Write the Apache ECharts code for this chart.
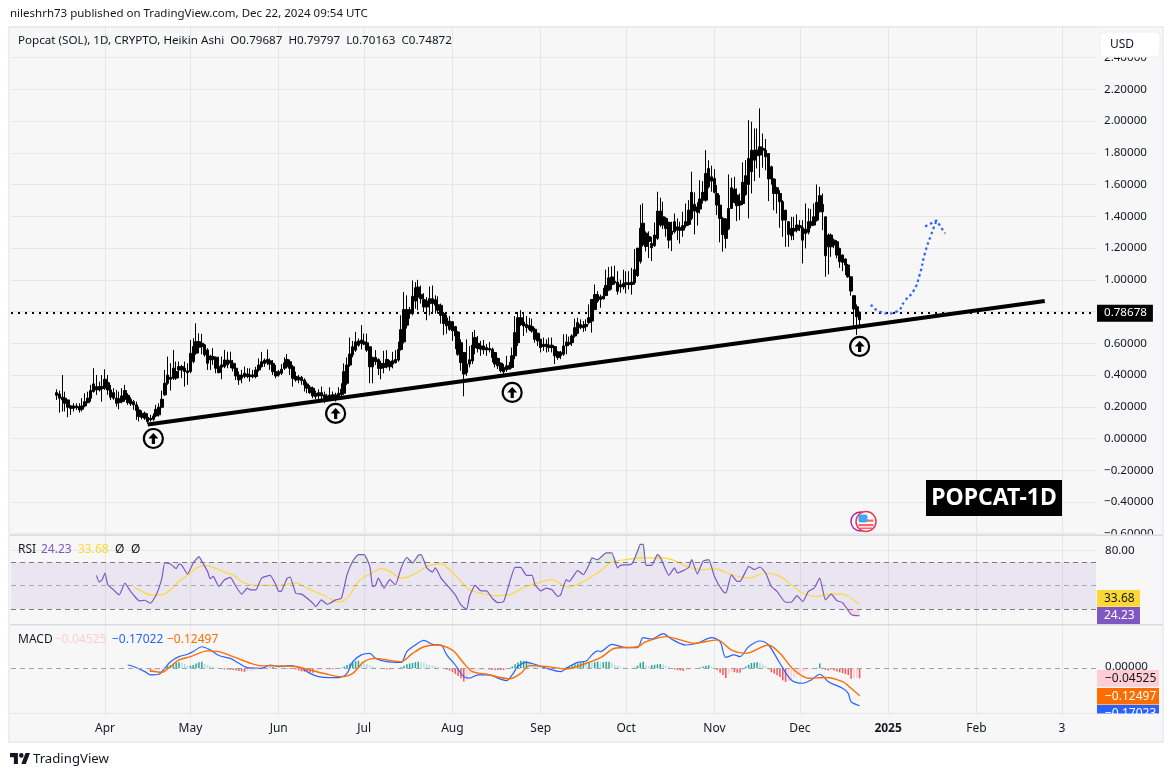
<!DOCTYPE html>
<html><head><meta charset="utf-8">
<style>html,body{margin:0;padding:0;background:#fff}#c{width:1174px;height:777px}</style>
<script src="https://cdn.jsdelivr.net/npm/echarts@6/dist/echarts.min.js"></script>
</head><body><div id="c"></div>
<script>
// ---- data ----
const firstDate = '2024-02-28';
const dayCount = 382;
const candleStartDay = -17; // days relative to 1 Apr 2024
const tickDates = ['2024-04-01','2024-05-01','2024-06-01','2024-07-01','2024-08-01','2024-09-01','2024-10-01','2024-11-01','2024-12-01','2025-01-01','2025-02-01','2025-03-03'];
const tickLabels = ['Apr','May','Jun','Jul','Aug','Sep','Oct','Nov','Dec','2025','Feb','3'];

const bodyTop = [.289,.281,.26,.254,.243,.205,.205,.205,.201,.205,.232,.254,.302,.344,.327,.327,.327,
.373,.352,.306,.289,.254,.251,.268,.302,.272,.247,.232,.212,.18,.159,.159,.134,.128,.142,.184,.197,.247,.348,.40,.386,.443,.422,.453,.453,.443,.426,.537,.579,.61,.61,.6,.59,.558,.52,.516,.512,.453,.464,.495,.495,.491,.474,.443,.40,.40,.411,.407,
.40,.40,.432,.463,.484,.494,.498,.49,.473,.421,.421,.436,.477,.498,.484,.452,.39,.386,.386,.369,.344,.323,.317,.285,.289,.289,.275,.268,.273,.275,.275,.285,.31,.421,.463,.532,.578,.609,.615,.62,.609,.603,.578,.511,.511,.498,.473,.473,.498,.484,.49,.498,.561,.686,.812,.812,.812,.896,.95,.954,.908,.875,.866,.881,.881,.875,.843,.839,.787,
.76,.74,.736,.705,.671,.604,.542,.469,.496,.588,.636,.6,.583,.583,.573,.567,.563,.542,.504,.475,.448,.458,.462,.521,.667,.761,.761,.734,.719,.713,.705,.688,.663,.625,.594,.594,.588,.588,.579,.546,.542,.583,.608,.604,.646,.698,.73,.719,.713,.719,.761,.876,.907,.907,.893,.897,.964,1.012,1.018,.991,.985,.97,.976,.981,.981,.985,1.064,1.2,1.325,1.357,1.294,1.273,
1.229,1.282,1.433,1.433,1.397,1.387,1.362,1.307,1.366,1.334,1.328,1.341,1.366,1.439,1.551,1.475,1.46,1.509,1.551,1.67,1.702,1.649,1.639,1.544,1.471,1.387,1.383,1.45,1.58,1.572,1.534,1.496,1.614,1.656,1.765,1.817,1.817,1.817,1.838,1.828,1.817,1.796,1.712,1.635,1.58,1.544,1.492,1.439,1.366,1.324,1.324,1.345,1.341,1.328,1.32,1.366,1.366,1.397,1.488,1.53,1.475,1.397,1.282,1.282,1.25,1.24,1.198,1.156,1.131,1.093,1.019,.90,.83,.79687];
const bodyBottom = [.272,.254,.243,.222,.197,.19,.19,.193,.18,.184,.205,.226,.254,.296,.306,.306,.314,
.317,.306,.26,.254,.222,.226,.232,.247,.226,.218,.212,.176,.138,.134,.128,.107,.117,.121,.142,.149,.197,.275,.348,.373,.38,.38,.432,.432,.422,.415,.422,.485,.537,.575,.579,.527,.474,.495,.499,.443,.415,.449,.453,.464,.474,.443,.394,.369,.38,.39,.39,
.39,.39,.39,.432,.452,.473,.477,.469,.421,.394,.40,.411,.442,.452,.442,.379,.369,.369,.365,.337,.317,.289,.268,.264,.268,.268,.254,.248,.254,.254,.26,.26,.275,.285,.348,.463,.526,.557,.588,.599,.595,.557,.452,.452,.484,.442,.442,.448,.452,.452,.469,.477,.494,.561,.609,.714,.787,.787,.866,.891,.881,.829,.829,.85,.85,.839,.808,.776,.724,
.71,.688,.678,.646,.531,.479,.406,.416,.469,.489,.573,.567,.563,.558,.558,.558,.51,.469,.458,.427,.42,.433,.437,.448,.521,.604,.719,.709,.698,.688,.677,.625,.615,.573,.579,.579,.573,.573,.521,.51,.521,.531,.583,.594,.604,.646,.663,.698,.698,.705,.73,.74,.813,.866,.876,.88,.901,.935,.97,.981,.928,.955,.955,.97,.97,.97,.981,1.027,1.116,1.221,1.21,1.242,
1.202,1.215,1.261,1.345,1.345,1.324,1.25,1.286,1.303,1.313,1.313,1.313,1.341,1.349,1.387,1.433,1.425,1.446,1.502,1.502,1.586,1.622,1.551,1.471,1.387,1.286,1.261,1.32,1.45,1.488,1.467,1.471,1.481,1.538,1.601,1.681,1.754,1.782,1.786,1.817,1.775,1.635,1.635,1.544,1.544,1.492,1.376,1.376,1.286,1.278,1.307,1.313,1.328,1.25,1.292,1.299,1.341,1.345,1.376,1.429,1.429,1.152,1.208,1.208,1.219,1.156,1.114,1.11,1.093,1.019,.929,.816,.767,.74872];
const highs = [.31,.302,.40,.295,.243,.21,.222,.222,.222,.254,.285,.295,.338,.443,.40,.358,.40,
.436,.40,.338,.317,.306,.295,.317,.338,.285,.26,.243,.232,.201,.176,.17,.159,.149,.159,.212,.222,.302,.432,.516,.474,.558,.485,.485,.464,.485,.474,.621,.632,.726,.663,.659,.596,.569,.527,.569,.516,.516,.516,.558,.547,.547,.495,.474,.422,.432,.453,.443,
.442,.432,.452,.505,.546,.505,.561,.505,.494,.463,.432,.469,.511,.532,.498,.463,.421,.40,.394,.379,.358,.337,.327,.302,.31,.327,.296,.281,.323,.296,.289,.323,.348,.473,.511,.636,.615,.672,.63,.714,.661,.661,.578,.515,.557,.505,.49,.553,.557,.494,.546,.557,.609,.776,.923,.902,.829,.996,.985,1.0,.964,.916,.891,.958,.964,.902,.896,.85,.797,
.78,.772,.74,.709,.678,.625,.542,.625,.583,.671,.684,.646,.615,.621,.594,.608,.573,.542,.51,.479,.469,.521,.483,.573,.772,.797,.809,.792,.772,.761,.755,.698,.667,.629,.636,.625,.636,.636,.583,.552,.552,.657,.657,.642,.657,.755,.761,.751,.74,.751,.845,.876,.97,.928,.907,.949,1.064,1.081,1.085,1.089,1.054,1.001,1.064,1.054,1.054,1.075,1.194,1.2,1.472,1.482,1.305,1.305,
1.271,1.362,1.555,1.517,1.492,1.397,1.366,1.366,1.418,1.387,1.366,1.429,1.481,1.502,1.681,1.551,1.488,1.628,1.622,1.817,1.754,1.719,1.698,1.597,1.534,1.397,1.387,1.664,1.643,1.649,1.576,1.544,1.74,1.754,2.006,1.996,1.954,1.954,2.08,1.922,1.887,1.796,1.719,1.64,1.586,1.565,1.502,1.44,1.37,1.397,1.397,1.412,1.376,1.376,1.481,1.45,1.446,1.481,1.601,1.586,1.544,1.397,1.292,1.292,1.26,1.25,1.202,1.16,1.135,1.1,1.02,.90,.845,.79797];
const lows = [.243,.163,.17,.17,.134,.148,.17,.18,.163,.17,.197,.222,.232,.289,.275,.296,.232,
.306,.275,.243,.243,.201,.184,.222,.232,.212,.205,.18,.117,.107,.121,.117,.092,.107,.111,.134,.138,.191,.268,.338,.302,.369,.369,.38,.38,.327,.338,.411,.474,.527,.537,.531,.516,.432,.432,.464,.411,.411,.373,.443,.443,.443,.422,.369,.338,.348,.38,.38,
.358,.379,.379,.421,.448,.452,.463,.432,.40,.379,.39,.40,.432,.442,.40,.327,.358,.348,.338,.296,.285,.281,.254,.248,.248,.248,.223,.233,.239,.243,.233,.243,.268,.275,.337,.452,.511,.546,.578,.561,.588,.546,.348,.348,.463,.40,.373,.411,.442,.427,.442,.473,.484,.553,.599,.693,.755,.776,.818,.808,.85,.797,.745,.776,.797,.787,.787,.724,.651,
.66,.678,.615,.563,.521,.427,.266,.395,.448,.469,.531,.542,.521,.531,.521,.542,.479,.448,.437,.416,.406,.42,.437,.441,.5,.583,.709,.646,.667,.677,.667,.604,.583,.542,.552,.542,.546,.542,.469,.496,.5,.521,.531,.583,.583,.636,.657,.688,.671,.677,.719,.667,.809,.855,.824,.876,.897,.928,.939,.97,.907,.918,.939,.914,.939,.907,.97,1.018,1.102,1.21,1.179,1.137,
1.118,1.208,1.25,1.334,1.32,1.271,1.198,1.181,1.292,1.25,1.229,1.271,1.328,1.341,1.376,1.286,1.341,1.418,1.481,1.492,1.576,1.555,1.544,1.408,1.236,1.177,1.198,1.313,1.446,1.481,1.37,1.376,1.471,1.53,1.387,1.544,1.622,1.702,1.643,1.706,1.691,1.496,1.6,1.439,1.418,1.328,1.271,1.208,1.208,1.25,1.25,1.299,1.307,1.103,1.198,1.286,1.324,1.341,1.366,1.425,1.313,1.019,1.034,1.145,1.2,1.135,1.076,1.055,1.03,1.013,.90,.698,.652,.70163];

const lastPrice = 0.78678;
const trendDays = [15, 330];
const trendValues = [0.088, 0.866];
const pathDays = [269,272,275,278,281,284,286,288,290,292];
const pathValues = [.844,.80,.788,.80,.87,.933,1.027,1.172,1.279,1.374];
const headDays = [288,292,295];
const headValues = [1.336,1.374,1.292];
const markerDays = [17,81,143,265];
const markerValues = [0,.158,.29,.58];

const rsiDays = [-3,-2,-1,0,1,3,5,7,9,10,12,14,16,18,20,21,23,25,26,27,29,31,33,34,36,37,38,40,42,44,46,48,50,51,53,55,58,60,61,62,64,65,67,69,71,73,74,76,78,79,81,83,85,87,89,91,93,94,95,96,98,100,102,104,106,108,110,111,113,115,116,118,120,123,125,127,128,130,132,134,136,138,140,142,144,146,148,150,151,153,155,157,159,160,162,163,166,168,170,171,173,176,178,180,181,185,187,188,189,190,192,194,195,198,200,201,205,206,208,210,212,214,217,218,220,222,223,225,226,228,230,232,234,236,239,241,243,245,247,249,251,253,255,257,259,262,263,265];
const rsiValues = [58.6,52.9,54.9,60.6,50.6,46.3,42,52,44.9,42,36.9,37.4,34.9,42,56.3,69.1,68.3,64.3,68.3,67.1,59.7,69.1,74.6,70.6,62,55.7,57.7,49.1,54.9,56.9,49.1,42.6,47.7,46.3,46.3,56.3,58.6,50.6,44.9,45.4,56.3,57.1,43.4,42.6,39.1,34.9,32,37.7,34,34.9,37.7,39.1,59.1,70.6,76.3,76.3,66.3,49.1,50,56.3,47.7,54.9,50.6,64.9,74,69.1,75.7,76.3,64.9,61.4,64.9,56.3,50.6,42,33.4,29.6,40.6,50,45.4,45.4,39.1,35.4,36.3,52,65.4,65.4,58.6,58.6,50.6,45.4,47.7,46.3,40.6,42,54.9,53.4,62.6,59.1,67.7,73.4,72,77.7,77.7,64.9,67.1,68.3,79.1,84.9,84.9,67.1,67.1,76.3,74,58.6,64.9,60.6,65.4,72,59.7,70.6,72,57.7,44.9,43.4,59.1,53.4,53.4,62,66.3,63.4,65.7,60.6,49.1,44.9,35.7,35.7,41.4,36.3,44.9,47.7,56.3,37.7,42.6,37.1,35.4,25.4,24.6,24.23];
const rsiMaDays = [10,13,16,20,23,26,30,32,35,38,42,45,48,51,55,60,67,71,75,79,81,83,86,89,93,97,100,104,106,110,113,118,121,125,128,132,137,142,147,153,157,161,163,167,171,174,178,183,189,196,200,205,210,214,220,226,232,237,241,245,250,255,259,262,265];
const rsiMaValues = [49.1,44.9,42,42,46.3,53.4,60.6,64.9,67.1,65.4,61.4,59.1,53.4,50.6,50,50,52,47.7,43.4,39.1,36.3,36.3,42,53.4,59.7,64.3,62,56.3,56.9,61.4,66.3,68.3,63.4,53.4,46.3,43.4,41.4,42,48.3,52.9,54.9,50,48.6,52,57.7,62.6,70,72,73.4,73.4,71.1,65.7,63.4,64.3,59.1,56.3,60.6,57.7,50.6,43.4,40.6,42.9,42.6,39.1,33.68];

const macdDays = [8,10,14,16,19,21,23,26,29,31,34,37,40,44,47,50,55,58,61,65,69,72,75,79,82,85,87,90,93,95,99,104,106,109,112,115,118,120,123,126,128,131,135,138,141,143,145,148,151,155,160,163,166,169,171,173,174,178,183,187,189,192,196,199,204,208,213,216,218,221,223,226,230,233,237,241,245,248,251,254,259,261,262,265];
const macdValues = [.015,.008,-.015,-.03,-.027,0,.03,.053,.064,.076,.098,.083,.058,.045,.023,.003,0,.015,.008,.012,0,-.023,-.038,-.042,-.042,-.023,.03,.061,.068,.045,.03,.027,.076,.106,.127,.109,.106,.061,.015,-.038,-.045,-.03,-.03,-.045,-.056,-.03,.008,.027,.018,0,-.015,.008,.027,.033,.061,.079,.076,.109,.094,.094,.139,.133,.158,.132,.106,.114,.139,.121,.05,.061,.053,.098,.124,.106,.023,-.053,-.068,-.053,-.027,-.061,-.091,-.114,-.152,-.17022];
const signalDays = [16,20,23,26,30,36,40,45,51,55,60,67,72,79,83,87,91,95,104,108,112,116,122,126,129,134,142,146,149,155,162,169,174,179,187,190,197,202,207,215,220,225,233,237,242,247,253,259,262,265];
const signalValues = [-.012,-.018,.008,.038,.053,.079,.076,.053,.023,.011,.011,.008,-.008,-.03,-.038,-.023,.03,.045,.03,.068,.098,.106,.083,.023,-.015,-.027,-.048,-.023,.012,.008,-.003,.023,.048,.091,.098,.121,.144,.129,.114,.129,.083,.068,.106,.068,-.008,-.045,-.042,-.061,-.091,-.12497];
const histStartDay = 16;
const histValues = [-.016,-.012,-.01,-.008,-.004,.004,.01,.015,.022,.025,.028,.025,.02,.012,.012,.015,.022,.028,.03,.02,.015,.01,.008,.005,.002,-.004,-.005,-.006,-.007,-.008,-.01,-.012,-.014,-.016,-.014,-.012,-.01,-.008,-.005,-.003,-.001,.002,.004,.006,.005,.003,.001,-.001,-.002,-.003,-.003,-.006,-.01,-.014,-.016,-.018,-.02,-.02,-.016,-.012,-.008,-.005,-.004,-.004,-.004,-.003,-.002,.003,.008,.015,.022,.028,.032,.034,.03,.026,.02,.014,.008,.005,.002,-.003,-.004,-.005,-.006,-.004,-.003,-.002,.005,.012,.018,.022,.024,.028,.03,.028,.026,.02,.015,.012,.01,.006,.004,-.003,-.006,-.01,-.018,-.026,-.035,-.045,-.06,-.055,-.03,-.022,-.015,-.012,-.008,-.006,-.005,-.006,-.007,-.008,-.008,-.008,-.008,-.006,-.003,.008,.018,.026,.034,.034,.034,.03,.024,.018,.014,.01,.006,.003,-.002,-.003,-.003,-.002,-.001,.002,.006,.01,.014,.018,.022,.026,.03,.026,.03,.028,.028,.03,.028,.028,.03,.03,.025,.015,.012,.008,.004,.003,.001,-.002,.003,.012,.025,.03,.014,.01,.014,.016,.018,.02,.018,.012,.008,-.003,-.006,-.008,-.01,-.012,-.01,-.008,-.004,-.002,-.002,.004,.008,.012,.014,.008,-.002,-.008,-.02,-.03,-.044,-.025,-.018,-.018,-.02,-.02,-.008,.008,.016,.024,.026,.028,.026,.018,.012,-.005,-.018,-.025,-.032,-.04,-.055,-.062,-.058,-.05,-.042,-.03,-.022,-.018,-.012,-.006,-.003,-.001,.002,.022,.005,-.008,-.01,-.008,-.01,-.014,-.018,-.022,-.026,-.03,-.048,-.046,-.044,-.04525];

// ---- helpers ----
const categories = [];
{ const t0 = Date.parse(firstDate + 'T00:00:00Z');
  for (let i = 0; i < dayCount; i++) categories.push(new Date(t0 + i * 864e5).toISOString().slice(0, 10)); }
const dayOffset = categories.indexOf('2024-04-01');
const cat = d => categories[d + dayOffset];
const pairs = (ds, vs) => ds.map((d, i) => [cat(d), vs[i]]);
const isTick = (i, v) => tickDates.indexOf(v) >= 0;
const alignDays = (start, arr) => { const o = new Array(start + dayOffset).fill('-'); return o.concat(arr); };
const candleData = alignDays(candleStartDay, bodyTop.map((t, i) => [bodyBottom[i], t, lows[i], highs[i]]));
const histData = alignDays(histStartDay, histValues.map((v, i) => {
  const p = i ? histValues[i - 1] : 0;
  const col = v >= 0 ? (v >= p ? '#26a69a' : '#b2dfdb') : (v <= p ? '#ff5252' : '#ffcdd2');
  return { value: v, itemStyle: { color: col } };
}));

const FONT = '"Noto Sans", sans-serif';
const TXT = '#131722';
const BG = '#f7f7f7';
const gridCol = '#e6e6e8';
const splitLine = { show: true, interval: isTick, lineStyle: { color: gridCol, width: 1 } };
const baseX = {
  type: 'category', data: categories, boundaryGap: false,
  axisLine: { show: false }, axisTick: { show: false }, axisLabel: { show: false }, splitLine
};
const minusFix = s => s.replace('-', '\u2212');
const text = (x, y, str, color, opt) => ({
  type: 'text', x, y, z: 120, silent: true,
  style: Object.assign({ text: str, fill: color, font: '12px ' + FONT, verticalAlign: 'middle' }, opt || {})
});
const rect = (x, y, w, h, fill, z) => ({ type: 'rect', z: z == null ? 110 : z, silent: true, shape: { x, y, width: w, height: h }, style: { fill } });

const graphics = [
  { type: 'rect', z: -10, silent: true, shape: { x: 9, y: 27, width: 1154, height: 715 }, style: { fill: BG, stroke: '#eceef3', lineWidth: 2 } },
  // clipped scale labels
  rect(1098, 534.5, 64, 7, BG, 100),
  // pane separators
  rect(10, 534.5, 1153, 1.5, '#d9dbe3', 105),
  rect(10, 624, 1153, 1.5, '#d9dbe3', 105),
  rect(10, 713, 1087, 1, '#e3e5ea', 105),
  // USD button
  { type: 'rect', z: 110, silent: true, shape: { x: 1100, y: 32, width: 60, height: 25, r: 4 }, style: { fill: '#fff', stroke: '#eceef3', lineWidth: 1 } },
  text(1110, 44.5, 'USD', TXT),
  // header and legends
  text(10, 14, 'nileshrh73 published on TradingView.com, Dec 22, 2024 09:54 UTC', TXT, { font: '11.5px ' + FONT }),
  text(18, 41, 'Popcat (SOL), 1D, CRYPTO, Heikin Ashi  O0.79687  H0.79797  L0.70163  C0.74872', TXT, { font: '11.65px ' + FONT }),
  text(18, 550, 'RSI', TXT), text(41, 550, '24.23', '#7e57c2'), text(78, 550, '33.68', '#fdd835'),
  text(115, 550, '\u00d8', TXT), text(131, 550, '\u00d8', TXT),
  text(18, 640, 'MACD', TXT), text(55, 640, '\u22120.04525', '#ffcdd2'), text(112, 640, '\u22120.17022', '#2962ff'), text(167, 640, '\u22120.12497', '#ff6d00'),
  // RSI value boxes
  rect(1097, 590, 43, 16.7, '#fdd835'), text(1104, 598.5, '33.68', TXT),
  rect(1097, 607, 43, 17, '#7e57c2'), text(1104, 615.5, '24.23', '#fff'),
  // MACD value boxes
  rect(1097, 670, 62, 16.7, '#ffcdd2'), text(1105, 678.5, '\u22120.04525', TXT),
  rect(1097, 688, 62, 16.5, '#ff6d00'), text(1105, 696.5, '\u22120.12497', '#fff'),
  rect(1097, 705, 62, 17, '#2962ff'), text(1105, 713.5, '\u22120.17023', '#fff'),
  rect(1097, 713.5, 64, 26, BG, 125),
  // POPCAT box
  rect(926, 480, 136, 36, '#000'),
  text(994, 498.5, 'POPCAT-1D', '#fff', { font: 'bold 23px ' + FONT, align: 'center' }),
  // flag badge
  { type: 'circle', z: 110, silent: true, shape: { cx: 860.5, cy: 521.5, r: 9.5 }, style: { fill: '#fff', stroke: '#9c27b0', lineWidth: 1.5 } },
  { type: 'circle', z: 111, silent: true, shape: { cx: 866, cy: 521.5, r: 10 }, style: { fill: '#fff', stroke: '#f23645', lineWidth: 1.5 } },
  { type: 'rect', z: 112, silent: true, shape: { x: 859, y: 519.5, width: 14.5, height: 2.2 }, style: { fill: '#f8646f' } },
  { type: 'rect', z: 112, silent: true, shape: { x: 858.5, y: 524, width: 15, height: 2.2 }, style: { fill: '#f8646f' } },
  { type: 'rect', z: 112, silent: true, shape: { x: 860, y: 527.5, width: 12, height: 1.5 }, style: { fill: '#f8646f' } },
  { type: 'rect', z: 113, silent: true, shape: { x: 858.5, y: 514.5, width: 9, height: 8, r: 2 }, style: { fill: '#42a5f5' } },
  // TradingView logo
  { type: 'polygon', z: 120, silent: true, shape: { points: [[17.9,764],[13.9,764],[13.9,757.3],[10,757.3],[10,753],[17.9,753]] }, style: { fill: TXT } },
  { type: 'polygon', z: 120, silent: true, shape: { points: [[25.8,764],[21.3,764],[25.5,753],[30,753]] }, style: { fill: TXT } },
  { type: 'circle', z: 120, silent: true, shape: { cx: 21.3, cy: 755.4, r: 2.3 }, style: { fill: TXT } },
  text(33, 759, 'TradingView', TXT, { font: '13.2px ' + FONT })
];

const noSym = { showSymbol: false, symbol: 'none', animation: false };
const option = {
  animation: false,
  backgroundColor: '#fff',
  textStyle: { fontFamily: FONT },
  grid: [
    { left: 11, width: 1085, top: 27.5, height: 506.2 },
    { left: 11, width: 1085, top: 536, height: 88 },
    { left: 11, width: 1085, top: 625, height: 88 }
  ],
  xAxis: [
    Object.assign({}, baseX, { gridIndex: 0 }),
    Object.assign({}, baseX, { gridIndex: 1 }),
    Object.assign({}, baseX, {
      gridIndex: 2,
      axisLabel: {
        show: true, interval: isTick, margin: 10, color: TXT, fontSize: 12, fontFamily: FONT,
        hideOverlap: false,
        formatter: v => { const l = tickLabels[tickDates.indexOf(v)]; return l === '2025' ? '{b|2025}' : l; },
        rich: { b: { fontWeight: 'bold', fontSize: 12, color: TXT, fontFamily: FONT } }
      }
    })
  ],
  yAxis: [
    { gridIndex: 0, type: 'value', position: 'right', min: -0.6, max: 2.59, interval: 0.2, axisLine: { show: false }, axisTick: { show: false },
      splitLine: { show: true, lineStyle: { color: gridCol, width: 1 } },
      axisLabel: { show: true, inside: false, margin: 8, color: TXT, fontSize: 11.6, fontFamily: FONT, hideOverlap: false,
        formatter: v => { const k = v / 0.2; return Math.abs(k - Math.round(k)) > 1e-6 ? '' : minusFix(v.toFixed(5)); } } },
    { gridIndex: 1, type: 'value', position: 'right', min: 17.2, max: 92.1, show: false, splitLine: { show: false } },
    { gridIndex: 2, type: 'value', position: 'right', min: -0.2032, max: 0.1968, show: false, splitLine: { show: false } }
  ],
  graphic: { elements: graphics },
  series: [
    { name: 'Popcat', type: 'candlestick', xAxisIndex: 0, yAxisIndex: 0, data: candleData, barWidth: 3,
      itemStyle: { color: '#000', color0: '#000', borderColor: '#000', borderColor0: '#000', borderWidth: 1 },
      markLine: { silent: true, symbol: 'none', animation: false,
        data: [{ yAxis: lastPrice,
          lineStyle: { type: [2, 5], color: '#000', width: 2 },
          label: { show: true, position: 'end', distance: 1, formatter: lastPrice.toFixed(5), color: '#fff', backgroundColor: '#000', padding: [3, 6, 2, 7], fontSize: 11.6, fontFamily: FONT } }] } },
    Object.assign({ name: 'Trend', type: 'line', xAxisIndex: 0, yAxisIndex: 0, data: pairs(trendDays, trendValues), lineStyle: { color: '#000', width: 4 }, z: 5 }, noSym),
    Object.assign({ name: 'Path', type: 'line', xAxisIndex: 0, yAxisIndex: 0, smooth: 0.6, data: pairs(pathDays, pathValues), lineStyle: { color: '#2962ff', width: 2.2, type: [2.5, 3] }, z: 6 }, noSym),
    Object.assign({ name: 'Head', type: 'line', xAxisIndex: 0, yAxisIndex: 0, data: pairs(headDays, headValues), lineStyle: { color: '#2962ff', width: 2.2, type: [2.5, 3] }, z: 6 }, noSym),
    { name: 'Ring', type: 'scatter', xAxisIndex: 0, yAxisIndex: 0, data: pairs(markerDays, markerValues), symbol: 'circle', symbolSize: 19, z: 7,
      itemStyle: { color: BG, borderColor: '#000', borderWidth: 2.2, opacity: 1 } },
    { name: 'Arrow', type: 'scatter', xAxisIndex: 0, yAxisIndex: 0, data: pairs(markerDays, markerValues), z: 8,
      symbol: 'path://M5 0L10 6H6.6V12H3.4V6H0z', symbolSize: [10, 11], itemStyle: { color: '#000', opacity: 1 } },

    // RSI pane
    Object.assign({ name: 'RSI', type: 'line', xAxisIndex: 1, yAxisIndex: 1, smooth: 0.15, data: pairs(rsiDays, rsiValues), lineStyle: { color: '#7e57c2', width: 1.2 }, z: 5,
      markArea: { silent: true, itemStyle: { color: 'rgba(126,87,194,0.1)' }, data: [[{ yAxis: 70 }, { yAxis: 30 }]] },
      markLine: { silent: true, symbol: 'none', animation: false, data: [
        { yAxis: 70, lineStyle: { type: [5, 4], color: '#787b86', width: 1 }, label: { show: false } },
        { yAxis: 50, lineStyle: { type: [5, 4], color: '#a8aab2', width: 1 }, label: { show: false } },
        { yAxis: 30, lineStyle: { type: [5, 4], color: '#787b86', width: 1 }, label: { show: false } },
        { yAxis: 40, lineStyle: { type: 'solid', color: gridCol, width: 1 }, label: { show: false } },
        { yAxis: 80, lineStyle: { type: 'solid', color: gridCol, width: 1 }, label: { show: true, position: 'end', distance: 9, formatter: '80.00', color: TXT, fontSize: 11.6, fontFamily: FONT } }
      ] } }, noSym),
    Object.assign({ name: 'Overbought', type: 'line', xAxisIndex: 1, yAxisIndex: 1, data: rsiDays.map((d, i) => [cat(d), Math.max(rsiValues[i], 70)]), lineStyle: { width: 0 }, areaStyle: { origin: 70, color: 'rgba(76,175,80,0.2)' }, z: 3 }, noSym),
    Object.assign({ name: 'Oversold', type: 'line', xAxisIndex: 1, yAxisIndex: 1, data: rsiDays.map((d, i) => [cat(d), Math.min(rsiValues[i], 30)]), lineStyle: { width: 0 }, areaStyle: { origin: 30, color: 'rgba(242,54,69,0.2)' }, z: 3 }, noSym),
    Object.assign({ name: 'RSI MA', type: 'line', xAxisIndex: 1, yAxisIndex: 1, smooth: 0.3, data: pairs(rsiMaDays, rsiMaValues), lineStyle: { color: '#fdd835', width: 1.2 }, z: 4 }, noSym),

    // MACD pane
    { name: 'Histogram', type: 'bar', xAxisIndex: 2, yAxisIndex: 2, data: histData, barWidth: 1.5, z: 2,
      markLine: { silent: true, symbol: 'none', animation: false, data: [
        { yAxis: 0, lineStyle: { type: [5, 4], color: '#a0a2aa', width: 1 }, label: { show: true, position: 'end', distance: 9, formatter: '0.00000', color: TXT, fontSize: 11.6, fontFamily: FONT, offset: [0, -2] } }
      ] } },
    Object.assign({ name: 'MACD', type: 'line', xAxisIndex: 2, yAxisIndex: 2, smooth: 0.3, data: pairs(macdDays, macdValues), lineStyle: { color: '#2962ff', width: 1.2 }, z: 4 }, noSym),
    Object.assign({ name: 'Signal', type: 'line', xAxisIndex: 2, yAxisIndex: 2, smooth: 0.3, data: pairs(signalDays, signalValues), lineStyle: { color: '#ff6d00', width: 1.4 }, z: 5 }, noSym)
  ]
};
const chart = echarts.init(document.getElementById('c'), null, { renderer: 'canvas', width: 1174, height: 777 });
chart.setOption(option);
</script></body></html>
